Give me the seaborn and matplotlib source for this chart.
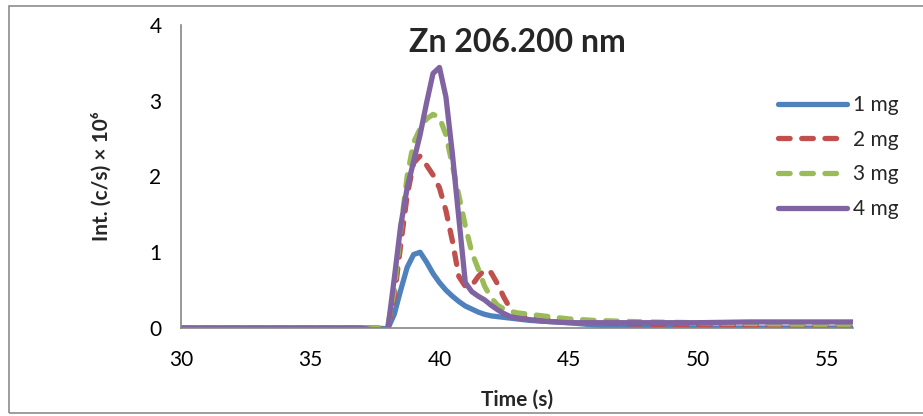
import numpy as np
import matplotlib
matplotlib.use("Agg")
import matplotlib.pyplot as plt
from matplotlib.patches import Rectangle
import seaborn as sns

# time grid (s)
time_s = [30, 31, 32, 33, 34, 35, 36, 37, 37.5, 38, 38.25, 38.5, 38.75, 39, 39.25, 39.5, 39.75,
          40, 40.25, 40.5, 40.75, 41, 41.25, 41.5, 41.75, 42, 42.25, 42.5, 42.75, 43, 43.5, 44,
          44.5, 45, 46, 47, 48, 50, 52, 54, 56]

# intensity (c/s x 10^6)
mg1 = [0, 0, 0, 0, 0, 0, 0, 0, 0, -0.01, 0.18, 0.5, 0.8, 0.97, 1.0, 0.87, 0.72,
       0.6, 0.5, 0.42, 0.35, 0.29, 0.25, 0.21, 0.18, 0.16, 0.15, 0.14, 0.13, 0.12, 0.1, 0.09,
       0.08, 0.07, 0.04, 0.02, 0.01, 0.0, 0.0, 0.0, 0.0]
mg2 = [0, 0, 0, 0, 0, 0, 0, 0, 0, 0, 0.4, 1.1, 1.75, 2.18, 2.27, 2.15, 2.02,
       1.85, 1.55, 1.15, 0.68, 0.55, 0.56, 0.68, 0.77, 0.73, 0.58, 0.4, 0.25, 0.17, 0.14, 0.13,
       0.12, 0.1, 0.08, 0.06, 0.05, 0.04, 0.03, 0.03, 0.03]
mg3 = [0, 0, 0, 0, 0, 0, 0, 0, 0, 0.02, 0.5, 1.3, 2.0, 2.45, 2.63, 2.76, 2.82,
       2.78, 2.55, 2.15, 1.75, 1.35, 1.0, 0.78, 0.55, 0.4, 0.3, 0.25, 0.22, 0.2, 0.18, 0.16,
       0.14, 0.12, 0.1, 0.09, 0.08, 0.07, 0.06, 0.05, 0.05]
mg4 = [0, 0, 0, 0, 0, 0, 0, 0.0, -0.03, -0.02, 0.65, 1.35, 1.85, 2.2, 2.55, 2.97, 3.36,
       3.44, 3.05, 2.3, 1.45, 0.6, 0.48, 0.42, 0.37, 0.3, 0.24, 0.19, 0.15, 0.13, 0.11, 0.09,
       0.08, 0.07, 0.07, 0.07, 0.07, 0.07, 0.08, 0.08, 0.08]

labels = ["1 mg", "2 mg", "3 mg", "4 mg"]
colors = ["#4F81BD", "#C0504D", "#9BBB59", "#8064A2"]
dashed = [False, True, True, False]

sns.set_style("white")
plt.rcParams['font.family'] = ['Lato', 'DejaVu Sans']

fig = plt.figure(figsize=(9.23, 4.16), dpi=100)
ax = fig.add_axes([181 / 923, 88 / 416, 672 / 923, 303 / 416])

for vals, lab, col, dsh in zip([mg1, mg2, mg3, mg4], labels, colors, dashed):
    sns.lineplot(x=time_s, y=vals, ax=ax, color=col, linewidth=3.8, label=lab)
    line = ax.lines[-1]
    line.set_solid_capstyle('round')
    line.set_solid_joinstyle('round')
    if dsh:
        line.set_dashes((2.2, 2.2))
        line.set_dash_capstyle('round')
        line.set_dash_joinstyle('round')

ax.set_xlim(30, 56)
ax.set_ylim(0, 4)
ax.set_xticks([30, 35, 40, 45, 50, 55])
ax.set_yticks([0, 1, 2, 3, 4])

for side in ['top', 'right']:
    ax.spines[side].set_visible(False)
for side in ['left', 'bottom']:
    ax.spines[side].set_color('#868686')
    ax.spines[side].set_linewidth(1.2)
ax.tick_params(axis='both', direction='out', length=6, width=1.2, color='#868686',
               labelsize=15, labelcolor='black')
ax.tick_params(axis='x', pad=10)
ax.tick_params(axis='y', pad=8)

ax.set_xlabel("Time (s)", fontsize=15, fontweight='bold', labelpad=14)
ax.set_ylabel("Int. (c/s) × 10⁶", fontsize=15, fontweight='bold', labelpad=27)
ax.set_title("Zn 206.200 nm", fontsize=23, fontweight='bold', y=0.885)

handles, labs = ax.get_legend_handles_labels()
ax.legend(handles, labs, loc='center left', bbox_to_anchor=(778 / 923, 1 - 157 / 416),
          bbox_transform=fig.transFigure, frameon=False, fontsize=15, borderpad=0,
          borderaxespad=0, handlelength=3.3, handletextpad=0.3, labelspacing=0.7)

fig.patches.append(Rectangle((9 / 923, 3 / 416), 1.2, 407 / 416, transform=fig.transFigure,
                             fill=False, edgecolor='#8c8c8c', linewidth=1.2, clip_on=False))

fig.savefig("out.png", dpi=100)
